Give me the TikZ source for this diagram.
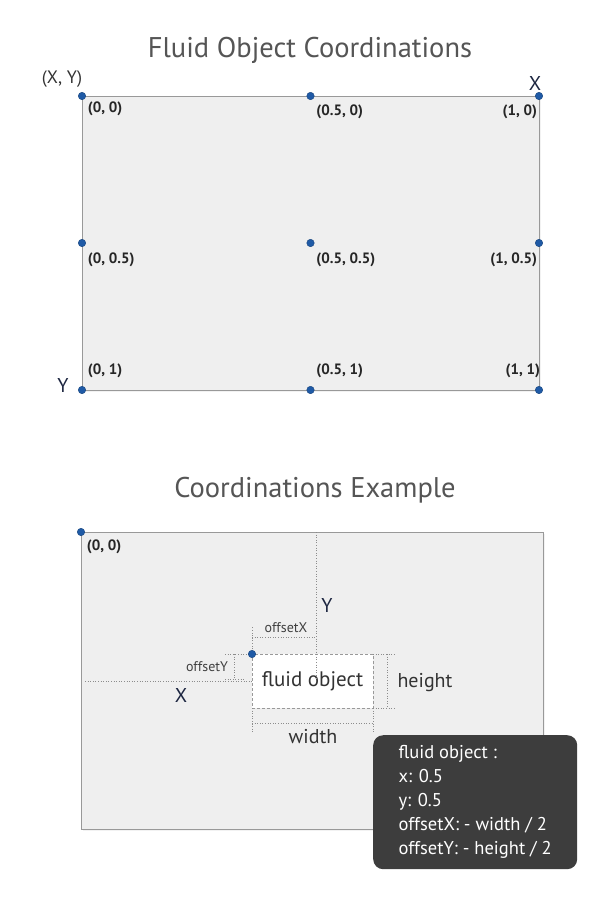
\documentclass[tikz,border=0pt]{standalone}
\usepackage{fontspec}
\setmainfont{PT Sans}
\usetikzlibrary{positioning,shadows}
\definecolor{pinblue}{HTML}{1F5AA6}
\definecolor{panelgray}{HTML}{EFEFEF}
\definecolor{boxdark}{HTML}{3D3D3D}
\definecolor{inkgray}{HTML}{555555}
\definecolor{navy}{HTML}{1C2540}
\newcommand\fsz[1]{\fontsize{#1}{#1}\selectfont}
\tikzset{
	panel/.style={draw=black!40, fill=panelgray, line width=0.9pt, outer sep=0pt, inner sep=0pt, anchor=north west,
		drop shadow={opacity=0.10, shadow xshift=1.5pt, shadow yshift=-1.5pt}},
	pin/.style={circle, fill=pinblue, draw=pinblue!75!black, line width=0.4pt, inner sep=0pt, minimum size=7.5pt},
	corner/.style={font=\bfseries\fsz{15}, text=black!85, inner sep=0pt},
	title/.style={font=\fsz{28.5}, text=inkgray},
	axis/.style={font=\fsz{20}, text=navy, inner sep=0pt},
	dimtext/.style={font=\fsz{20}, text=black!80, inner sep=0pt},
	smalltext/.style={font=\fsz{14}, text=black!75, inner sep=0pt},
	dim/.style={dotted, draw=black!45, line width=0.6pt},
}

\begin{document}
\begin{tikzpicture}[x=1pt, y=-1pt]
			%%%%% START %%%%%
			\useasboundingbox (0,0) rectangle (600,900);
			
			% first panel
			\node[title] (title1) at (310,50) {Fluid Object Coordinations};
			\node[panel, minimum width=457pt, minimum height=294pt] (top) at (82,96) {};
			
			\node[pin] (p00) at (top.north west) {};
			\node[pin] (p50) at (top.north) {};
			\node[pin] (p10) at (top.north east) {};
			\node[pin] (p05) at (top.west) {};
			\node[pin] (p55) at (top.center) {};
			\node[pin] (p15) at (top.east) {};
			\node[pin] (p01) at (top.south west) {};
			\node[pin] (p51) at (top.south) {};
			\node[pin] (p11) at (top.south east) {};
			
			\node[corner, below right=3pt and 3pt of p00] {(0, 0)};
			\node[corner, below right=6pt and 3pt of p50] {(0.5, 0)};
			\node[corner, below left=6pt and -1pt of p10] {(1, 0)};
			\node[corner, below right=7pt and 3pt of p05] {(0, 0.5)};
			\node[corner, below right=7pt and 3pt of p55] {(0.5, 0.5)};
			\node[corner, below left=7pt and -1pt of p15] {(1, 0.5)};
			\node[corner, above right=9pt and 3pt of p01] {(0, 1)};
			\node[corner, above right=9pt and 3pt of p51] {(0.5, 1)};
			\node[corner, above left=9pt and -4pt of p11] {(1, 1)};
			
			\node[font=\fsz{18}, text=black!80] (xy) at (62,79) {(X, Y)};
			\node[axis] (xlbl) at (535,83) {X};
			\node[axis] (ylbl) at (63,385) {Y};
			
			% second panel
			\node[title] (title2) at (315,490) {Coordinations Example};
			\node[panel, minimum width=462pt, minimum height=297pt] (bot) at (81,532) {};
			\node[pin] (q00) at (bot.north west) {};
			\node[corner, below right=5pt and 3pt of q00] {(0, 0)};
			
			\node[draw=black!40, densely dashed, line width=0.5pt, fill=white, minimum width=121pt, minimum height=54pt,
				anchor=north west, outer sep=0pt, inner sep=0pt, font=\fsz{21}, text=black!80] (fobj) at (252,654) {fluid object};
			
			\coordinate (ytop) at (316,532);
			\coordinate (pos) at (316,679);
			\coordinate (xstart) at (85,681);
			\draw[dim] (ytop) -- (pos);
			\draw[dim] (xstart) -- (fobj.west);
			\node[axis] (ybig) at (327,605) {Y};
			\node[axis] (xbig) at (181,695) {X};
			
			% offsetX
			\coordinate (ox1) at (252,627);
			\coordinate (ox2) at (252,637);
			\coordinate (ox3) at (316,637);
			\draw[dim] (fobj.north west) -- (ox1);
			\draw[dim] (ox2) -- (ox3);
			\node[smalltext] (oxlbl) at (286,628) {offsetX};
			
			% offsetY
			\coordinate (oy1) at (225,654);
			\coordinate (oy2) at (234,654);
			\coordinate (oy3) at (234,679);
			\coordinate (oy4) at (225,679);
			\coordinate (oy5) at (244,679);
			\draw[dim] (oy1) -- (fobj.north west);
			\draw[dim] (oy2) -- (oy3);
			\draw[dim] (oy4) -- (oy5);
			\node[smalltext] (oylbl) at (207,667) {offsetY};
			
			% height
			\coordinate (h1) at (395,654);
			\coordinate (h2) at (395,708);
			\coordinate (h3) at (387,654);
			\coordinate (h4) at (387,708);
			\draw[dim] (fobj.north east) -- (h1);
			\draw[dim] (fobj.south east) -- (h2);
			\draw[dim] (h3) -- (h4);
			\node[dimtext] (hlbl) at (425,683) {height};
			
			% width
			\coordinate (w1) at (252,732);
			\coordinate (w2) at (373,732);
			\coordinate (w3) at (252,723);
			\coordinate (w4) at (373,723);
			\draw[dim] (fobj.south west) -- (w1);
			\draw[dim] (fobj.south east) -- (w2);
			\draw[dim] (w3) -- (w4);
			\node[dimtext] (wlbl) at (313,737) {width};
			
			\node[pin] (fpin) at (fobj.north west) {};
			
			% info box
			\node[fill=boxdark, rounded corners=10pt, anchor=north west, minimum width=204pt, minimum height=134pt,
				inner xsep=23pt, align=left, text=white, font=\fontsize{18.5}{24}\selectfont] (info) at (373,735)
				{fluid object :\\x: 0.5\\y: 0.5\\offsetX: - width / 2\\offsetY: - height / 2};
			
			%%%%% END %%%%%
\end{tikzpicture}
\end{document}
